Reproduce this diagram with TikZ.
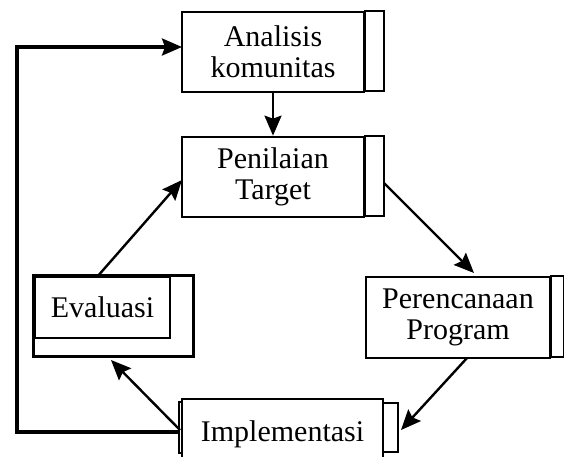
\documentclass[tikz,border=0pt]{standalone}
\usepackage{fontspec}
\setmainfont{Liberation Serif}
\usetikzlibrary{arrows.meta}
\begin{document}
\begin{tikzpicture}[x=1pt,y=-1pt,
  boxnode/.style={draw, line width=2.7pt, inner sep=0pt, align=center,
    font=\fontsize{30}{31}\selectfont},
  sidebox/.style={draw, line width=2.2pt},
  conn/.style={line width=2.4pt, -{Stealth[length=20pt,width=17pt,inset=3pt]}},
  loopline/.style={line width=3.2pt, -{Stealth[length=20pt,width=17pt,inset=3pt]}}]
\useasboundingbox (0,0) rectangle (564,456);
% Analisis komunitas
\node[boxnode, minimum width=182pt, minimum height=80pt] (ana) at (273,52) {Analisis\\komunitas};
\draw[sidebox] (ana.north east) rectangle ++(19,80);
% Penilaian Target
\node[boxnode, minimum width=182pt, minimum height=80pt] (pen) at (273,177) {Penilaian\\Target};
\draw[sidebox] (pen.north east) rectangle ++(19,80);
% Evaluasi
\node[boxnode, minimum width=135pt, minimum height=61pt] (eva) at (102.5,307.5) {Evaluasi};
\draw[sidebox, line width=2.7pt] (eva.north west) -- ++(160,0) -- ++(0,81) -- ++(-160,0) -- cycle;
\coordinate (evat) at (97,277);
% Perencanaan Program
\node[boxnode, minimum width=184pt, minimum height=81pt] (per) at (458,317.5) {Perencanaan\\Program};
\draw[sidebox] (per.north east) rectangle ++(13,81);
% Implementasi
\node[boxnode, minimum width=201pt, minimum height=70pt] (imp) at (282.5,434) {Implementasi};
\draw[line width=1.2pt] (179,402) rectangle (182,453);
\draw[sidebox] (383,403) rectangle (398,452);
% connectors
\draw[conn] (ana.south) -- (pen.north);
\coordinate (penr) at (384,183);
\coordinate (perin) at (474,273);
\draw[conn] (penr) -- (perin);
\coordinate (perout) at (467,358);
\coordinate (impin) at (401,430);
\draw[conn] (perout) -- (impin);
\coordinate (impout) at (180,430);
\coordinate (evain) at (111,360);
\draw[conn] (impout) -- (evain);
\coordinate (penl) at (182,180);
\draw[conn] (evat) -- (penl);
\coordinate (impl) at (180,432);
\coordinate (anal) at (182,47);
\draw[loopline] (impl) -- (17,432) -- (17,47) -- (anal);
\end{tikzpicture}
\end{document}
